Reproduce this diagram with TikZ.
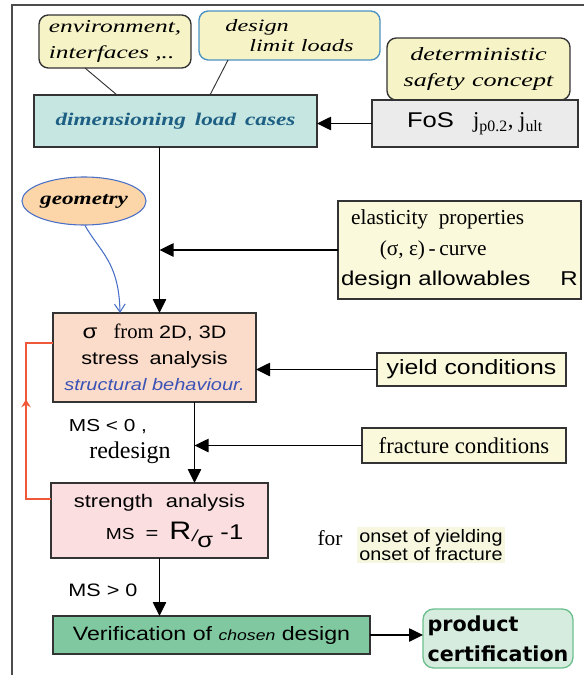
\documentclass[tikz,border=0pt]{standalone}
\usepackage{fontspec}
\setmainfont{Liberation Serif}
\newfontfamily\sfx[FakeStretch=1.2]{Liberation Sans}
\newfontfamily\sfc[FakeStretch=1.1]{Liberation Sans}
\newfontfamily\serit[FakeStretch=1.4]{Liberation Serif}
\newfontfamily\serbi[FakeStretch=1.3]{Liberation Serif}
\newfontfamily\dvb{DejaVu Sans}
\newcommand\fsz[2]{\fontsize{#1}{#2}\selectfont}
\usetikzlibrary{arrows.meta,shapes.geometric,calc,decorations.markings}
\definecolor{noteY}{HTML}{F6F4C6}
\definecolor{dimC}{HTML}{C6E6E1}
\definecolor{dimT}{HTML}{1E5F84}
\definecolor{fosC}{HTML}{EBEBEB}
\definecolor{creamC}{HTML}{FAF9DC}
\definecolor{sigC}{HTML}{FBDCCA}
\definecolor{strC}{HTML}{FBDFE0}
\definecolor{verC}{HTML}{80C9A0}
\definecolor{prodC}{HTML}{D6ECDF}
\definecolor{prodB}{HTML}{6CC08E}
\definecolor{geoC}{HTML}{FCD5A8}
\definecolor{geoB}{HTML}{4A6FC6}
\definecolor{redL}{HTML}{F0583A}
\definecolor{blueT}{HTML}{3B53B6}
\definecolor{dllB}{HTML}{4C93C2}
\definecolor{onsC}{HTML}{F7F7DF}
\definecolor{edge}{HTML}{333333}
\begin{document}
\begin{tikzpicture}[x=0.75pt,y=-0.75pt,
  box/.style={draw=edge, line width=1pt, inner sep=0pt, outer sep=0pt, align=center},
  note/.style={box, rounded corners=7pt, fill=noteY},
  arr/.style={line width=1.1pt, -{Triangle[length=10.5pt,width=10pt]}},
  thinl/.style={line width=0.7pt, draw=edge},
  lbl/.style={inner sep=0pt}]
\useasboundingbox (0,0) rectangle (584,675);
\draw[line width=0.8pt, black!70] (12,675) -- (12,5) -- (584,5);

% notes
\node[note, minimum width=114pt, minimum height=39.75pt, align=left,
  font=\serit\itshape\fsz{13.6}{20}] (env) at (115,41.5) {environment,\\interfaces ,..};
\node[note, draw=dllB, minimum width=135.75pt, minimum height=36.75pt, align=left,
  font=\serit\itshape\fsz{13}{15}] (dll) at (289.5,35.5) {design\\\hspace*{18pt}limit\hspace{0.4em}loads};
\node[note, minimum width=137.25pt, minimum height=46.5pt,
  font=\serit\itshape\fsz{14}{20}] (det) at (478.5,69) {deterministic\\safety\hspace{0.4em}concept};

% main boxes
\node[box, fill=dimC, text=dimT, minimum width=212.25pt, minimum height=39pt,
  font=\serbi\bfseries\itshape\fsz{13.4}{14}] (dim) at (175.5,121) {dimensioning\hspace{0.5em}load\hspace{0.5em}cases};
\node[box, fill=fosC, minimum width=154.5pt, minimum height=35.25pt,
  font=\sfx\fsz{16}{16}] (fos) at (475,123.5) {FoS\hspace{0.9em}{\rmfamily\fsz{17}{17}j\textsubscript{p0.2}, j\textsubscript{ult}}};

\node[ellipse, draw=geoB, fill=geoC, line width=0.8pt, minimum width=88.5pt, minimum height=36pt,
  inner sep=0pt, font=\serbi\bfseries\itshape\fsz{13.4}{14}] (geo) at (84,201) {geometry};

\node[box, fill=creamC, minimum width=182.25pt, minimum height=73.5pt, align=left,
  font=\fsz{16}{23}] (elas) at (459.5,250)
  {\hspace*{7.5pt}elasticity\hspace{0.5em}properties\\
   \hspace*{29pt}(σ, ε)\,-\,curve\\
   {\sfx\fsz{15}{23}design allowables\hspace{1.5em}R}};

\node[box, fill=sigC, minimum width=152.25pt, minimum height=66.75pt,
  font=\sfx\fsz{13.5}{19.5}] (sig) at (154.5,357.5)
  {{\fsz{15}{19.5}σ}\hspace{0.9em}{\rmfamily\fsz{15.5}{19.5}from}\hspace{0.3em}2D, 3D\\
   stress\hspace{0.6em}analysis\\
   {\color{blueT}\itshape\fsz{12.5}{19.5}structural behaviour.}};

\node[box, fill=creamC, minimum width=141.75pt, minimum height=24.75pt,
  font=\sfx\fsz{15.5}{16}] (yield) at (471.5,369.5) {yield conditions};
\node[box, fill=creamC, minimum width=153pt, minimum height=26.25pt,
  font=\rmfamily\fsz{17}{17}] (frac) at (464,445.5) {fracture conditions};

\node[box, fill=strC, minimum width=162.75pt, minimum height=56.25pt, align=left,
  font=\sfx\fsz{13.7}{24}] (str) at (159.5,520.5)
  {strength\hspace{0.7em}analysis\\
   \hspace*{24pt}{\fsz{12}{24}MS}\hspace{0.6em}=\hspace{0.6em}{\fsz{19}{24}R}\kern0.5pt\raisebox{-2pt}{\fsz{12}{12}\itshape /}\raisebox{-6pt}{\fsz{16}{16}σ}\hspace{0.4em}{\fsz{16}{24}-1}};

\node[fill=onsC, inner sep=1.5pt, align=left, font=\sfc\fsz{13.5}{13.5}] (ons) at (431,545)
  {onset of yielding\\onset of fracture};

\node[box, fill=verC, minimum width=237.75pt, minimum height=28.5pt,
  font=\sfx\fsz{14.5}{15}] (ver) at (211.5,635) {Verification of {\fsz{11}{11}\itshape chosen} design};
\node[box, draw=prodB, fill=prodC, rounded corners=8pt, minimum width=112.5pt, minimum height=44.25pt,
  align=left, font=\dvb\bfseries\fsz{15.5}{22.5}] (prod) at (498,638.5) {product\\certification};

% free labels
\node[lbl, font=\sfx\fsz{13}{13}] (ms1) at (108,427) {MS < 0 ,};
\node[lbl, font=\rmfamily\fsz{18}{18}] (rd) at (130,453) {redesign};
\node[lbl, font=\sfx\fsz{13.5}{13.5}] (ms2) at (103,590) {MS > 0};
\node[lbl, font=\rmfamily\fsz{16}{16}] (forl) at (330,538) {for};

% connectors
\draw[thinl] ($(env.south)+(-30,0)$) -- ($(dim.north)+(-58.5,0)$);
\draw[thinl] ($(dll.south)+(-61.5,0)$) -- ($(dim.north)+(34.5,0)$);
\draw[arr] (fos.west) -- (fos.west -| dim.east);
\draw[arr] ($(dim.south)+(-16,0)$) coordinate (t1) -- (t1 |- sig.north);
\draw[arr] (elas.west) -- (elas.west -| t1);
\draw[geoB, line width=0.8pt, -{Straight Barb[length=6pt,width=8pt]}]
  ($(geo.south)+(1,0)$) .. controls (100,252) and (119,262) .. ($(sig.north)+(-34.5,0)$);
\draw[arr] (yield.west) -- (yield.west -| sig.east);
\draw[arr] ($(sig.south)+(40,0)$) coordinate (t2) -- (t2 |- str.north);
\draw[arr] (frac.west) -- (frac.west -| t2);
\draw[redL, line width=1pt, postaction={decorate},
  decoration={markings, mark=at position 0.6 with {\arrow{Stealth[length=6pt,width=7pt]}}}]
  ($(str.west)+(0,-21.5)$) -| ($(sig.west)+(-27,-14.5)$) -- ($(sig.west)+(0,-14.5)$);
\draw[arr] (str.south) -- (str.south |- ver.north);
\draw[arr] (ver.east) -- (ver.east -| prod.west);
\end{tikzpicture}
\end{document}
